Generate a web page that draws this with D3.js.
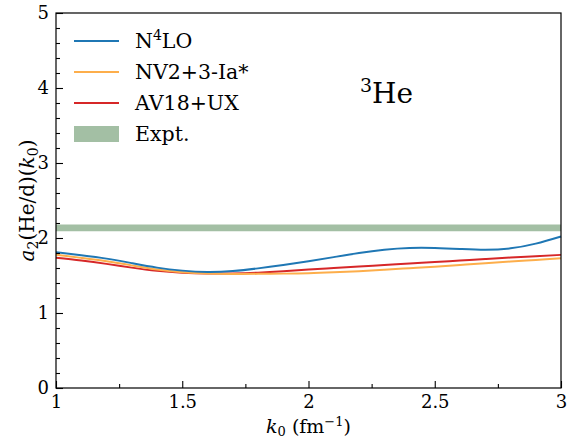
<!DOCTYPE html>
<html>
<head>
<meta charset="utf-8">
<script src="https://cdn.jsdelivr.net/npm/d3@7"></script>
<style>
  body { margin: 0; background: #fff; }
  svg { font-family: "DejaVu Serif", serif; }
</style>
</head>
<body>
<svg id="chart" width="568" height="440"></svg>
<script>
// k0 grid (fm^-1) and curves
const k0 = [1.0, 1.1, 1.2, 1.3, 1.4, 1.5, 1.6, 1.7, 1.8, 1.9, 2.0,
            2.1, 2.2, 2.3, 2.4, 2.5, 2.6, 2.7, 2.8, 2.9, 3.0];
const n4lo = [1.81, 1.77, 1.725, 1.665, 1.605, 1.565, 1.548, 1.56, 1.595, 1.64, 1.69,
              1.745, 1.8, 1.843, 1.866, 1.866, 1.853, 1.842, 1.862, 1.925, 2.02];
const nv2 = [1.778, 1.735, 1.69, 1.635, 1.58, 1.543, 1.525, 1.52, 1.522, 1.525, 1.53,
             1.542, 1.558, 1.578, 1.598, 1.618, 1.64, 1.663, 1.686, 1.708, 1.73];
const av18 = [1.737, 1.70, 1.655, 1.605, 1.562, 1.537, 1.527, 1.528, 1.538, 1.557, 1.58,
              1.60, 1.62, 1.64, 1.66, 1.68, 1.70, 1.72, 1.74, 1.757, 1.775];
const expt = [2.09, 2.18]; // band low/high

const seriesNames = ["N⁴LO", "NV2+3-Ia*", "AV18+UX"];
const seriesColors = ["#1f77b4", "#fdae4b", "#d62728"];
const bandColor = "#a3bfa4";
const xTicks = [1, 1.5, 2, 2.5, 3];
const yTicks = [0, 1, 2, 3, 4, 5];

const svg = d3.select("#chart");
const width = +svg.attr("width");
const height = +svg.attr("height");
const margin = { top: 13, right: 7, bottom: 52, left: 56 };

const x = d3.scaleLinear().domain([1, 3]).range([margin.left, width - margin.right]);
const y = d3.scaleLinear().domain([0, 5]).range([height - margin.bottom, margin.top]);

// experimental band
svg.append("rect")
  .attr("x", x(1))
  .attr("width", x(3) - x(1))
  .attr("y", y(expt[1]))
  .attr("height", y(expt[0]) - y(expt[1]))
  .attr("fill", bandColor);

const line = d3.line()
  .x(d => x(d[0]))
  .y(d => y(d[1]))
  .curve(d3.curveNatural);

// draw order: AV18 underneath, then NV2, then N4LO on top
[av18, nv2, n4lo].forEach((vals, i) => {
  const idx = 2 - i;
  svg.append("path")
    .datum(k0.map((k, j) => [k, vals[j]]))
    .attr("fill", "none")
    .attr("stroke", seriesColors[idx])
    .attr("stroke-width", 2)
    .attr("d", line);
});

// frame
svg.append("rect")
  .attr("x", x(1)).attr("y", y(5))
  .attr("width", x(3) - x(1)).attr("height", y(0) - y(5))
  .attr("fill", "none").attr("stroke", "#000").attr("stroke-width", 1.2);

// axes with inward ticks
const xMinor = d3.range(1, 3.001, 0.25).filter(v => !xTicks.some(t => Math.abs(t - v) < 1e-6));
const yMinor = d3.range(0, 5.001, 0.2).filter(v => !yTicks.some(t => Math.abs(t - v) < 1e-6));

const gx = svg.append("g").attr("transform", `translate(0,${y(0)})`);
gx.call(d3.axisBottom(x).tickValues(xTicks).tickSize(-7).tickPadding(7).tickFormat(d3.format("")));
gx.append("g").call(d3.axisBottom(x).tickValues(xMinor).tickSize(-4).tickFormat(""));

const gy = svg.append("g").attr("transform", `translate(${x(1)},0)`);
gy.call(d3.axisLeft(y).tickValues(yTicks).tickSize(-7).tickPadding(7).tickFormat(d3.format("")));
gy.append("g").call(d3.axisLeft(y).tickValues(yMinor).tickSize(-4).tickFormat(""));

svg.selectAll(".domain").remove();
svg.selectAll(".tick line").attr("stroke", "#000").attr("stroke-width", 1.1);
svg.selectAll(".tick text")
  .attr("fill", "#000")
  .style("font-family", "DejaVu Serif")
  .style("font-size", "18px");

// axis labels
const xl = svg.append("text")
  .attr("x", (x(1) + x(3)) / 2)
  .attr("y", 433)
  .attr("text-anchor", "middle")
  .style("font-size", "19px");
xl.append("tspan").style("font-style", "italic").text("k");
xl.append("tspan").attr("dy", 3).style("font-size", "13px").text("0");
xl.append("tspan").attr("dy", -3).text(" (fm");
xl.append("tspan").attr("dy", -7).style("font-size", "13px").text("−1");
xl.append("tspan").attr("dy", 7).text(")");

const yl = svg.append("text")
  .attr("transform", `translate(34,${(y(0) + y(5)) / 2}) rotate(-90)`)
  .attr("text-anchor", "middle")
  .style("font-size", "20px");
yl.append("tspan").style("font-style", "italic").text("a");
yl.append("tspan").attr("dy", 4).style("font-size", "14px").text("2");
yl.append("tspan").attr("dy", -4).text("(He/d)(");
yl.append("tspan").style("font-style", "italic").text("k");
yl.append("tspan").attr("dy", 4).style("font-size", "14px").text("0");
yl.append("tspan").attr("dy", -4).text(")");

// nucleus label
const nl = svg.append("text")
  .attr("x", 360).attr("y", 103)
  .style("font-size", "28px");
nl.append("tspan").attr("dy", -11).style("font-size", "19px").text("3");
nl.append("tspan").attr("dy", 11).text("He");

// legend
const legend = svg.append("g").attr("transform", "translate(74,41)");
seriesNames.forEach((name, i) => {
  const g = legend.append("g").attr("transform", `translate(0,${i * 31})`);
  g.append("line").attr("x1", 0).attr("x2", 45)
    .attr("stroke", seriesColors[i]).attr("stroke-width", 2);
  const t = g.append("text").attr("x", 61).attr("y", 7).style("font-size", "20.5px");
  if (i === 0) {
    t.append("tspan").text("N");
    t.append("tspan").attr("dy", -8).style("font-size", "14px").text("4");
    t.append("tspan").attr("dy", 8).text("LO");
  } else {
    t.text(name);
  }
});
const ge = legend.append("g").attr("transform", `translate(0,${3 * 31})`);
ge.append("rect").attr("x", 0).attr("y", -8).attr("width", 45).attr("height", 16).attr("fill", bandColor);
ge.append("text").attr("x", 61).attr("y", 7).style("font-size", "20.5px").text("Expt.");
</script>
</body>
</html>
